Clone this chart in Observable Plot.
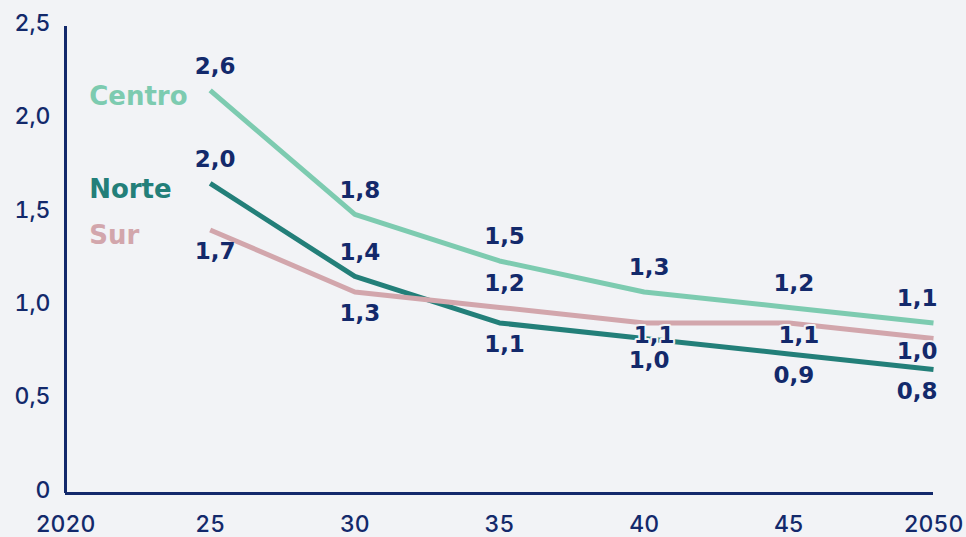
<!DOCTYPE html>
<html>
<head>
<meta charset="utf-8">
<script src="https://cdn.jsdelivr.net/npm/d3@7"></script>
<script src="https://cdn.jsdelivr.net/npm/@observablehq/plot@0.6"></script>
<style>
  html, body { margin: 0; padding: 0; background: #f2f3f6; }
  #chart { width: 966px; height: 537px; overflow: hidden; }
</style>
</head>
<body>
<div id="chart"></div>
<script>
// Projected values per region, 2025–2050
const years = [2025, 2030, 2035, 2040, 2045, 2050];
const regions = ["Centro", "Norte", "Sur"];
const centro = [2.6, 1.8, 1.5, 1.3, 1.2, 1.1];
const norte = [2.0, 1.4, 1.1, 1.0, 0.9, 0.8];
const sur = [1.7, 1.3, 1.2, 1.1, 1.1, 1.0];

const xTicks = [2020, 2025, 2030, 2035, 2040, 2045, 2050];
const xTickLabels = ["2020", "25", "30", "35", "40", "45", "2050"];
const yTicks = [0, 0.5, 1, 1.5, 2, 2.5];
const yTickLabels = ["0", "0,5", "1,0", "1,5", "2,0", "2,5"];

// Where each value label sits relative to its line
const labelSide = {
  Centro: ["above", "above", "above", "above", "above", "above"],
  Norte: ["above", "above", "below", "below", "below", "below"],
  Sur: ["below", "below", "above", "close", "close", "close"]
};
const sideOffset = {above: -24, below: 22, close: 13};

// The vertical axis is read in a unit 0.83 times that of the printed values
const axisFactor = 0.83;
const toAxis = v => v * axisFactor;

const bg = "#f2f3f6";
const navy = "#13296b";
const colors = ["#7dcbb0", "#237f79", "#d2a6ac"];
const series = {Centro: centro, Norte: norte, Sur: sur};

const rows = regions.flatMap(region =>
  years.map((year, i) => ({region, year, value: series[region][i], side: labelSide[region][i]}))
);

const fmt = v => v.toFixed(1).replace(".", ",");
const last = years[years.length - 1];

// Value labels: one text mark per side, the final year right-aligned;
// labels squeezed between two lines get a halo in the background colour
function valueLabels(side) {
  const base = {
    x: "year",
    y: d => toAxis(d.value),
    text: d => fmt(d.value),
    fontSize: 23,
    fontWeight: "bold",
    fill: navy,
    dy: sideOffset[side],
    ...(side === "close" ? {stroke: bg, strokeWidth: 4} : {})
  };
  return [
    Plot.text(rows.filter(d => d.side === side && d.year !== last), {...base, dx: side === "close" ? 10 : 5}),
    Plot.text(rows.filter(d => d.side === side && d.year === last), {...base, dx: 4, textAnchor: "end"})
  ];
}

const tickFont = {fontSize: 23, fontFamily: "Inter", fontWeight: 500, fill: navy, tickSize: 0, label: null};

const chart = Plot.plot({
  width: 966,
  height: 537,
  marginLeft: 65,
  marginRight: 33,
  marginTop: 26,
  marginBottom: 44,
  style: {background: bg, fontFamily: "DejaVu Sans", color: navy, overflow: "visible"},
  x: {domain: [2020, 2050]},
  y: {domain: [0, 2.5]},
  color: {domain: regions, range: colors},
  marks: [
    Plot.axisY({
      ...tickFont,
      ticks: yTicks,
      tickFormat: d => yTickLabels[yTicks.indexOf(d)],
      tickPadding: 15,
      dy: -3
    }),
    Plot.axisX({
      ...tickFont,
      ticks: xTicks,
      tickFormat: d => xTickLabels[xTicks.indexOf(d)],
      tickPadding: 22
    }),
    Plot.ruleX([2020], {stroke: navy, strokeWidth: 3}),
    Plot.ruleY([0], {stroke: navy, strokeWidth: 3}),
    Plot.line(rows, {
      x: "year",
      y: d => toAxis(d.value),
      z: "region",
      stroke: "region",
      strokeWidth: 5,
      strokeLinecap: "butt"
    }),
    ...valueLabels("above"),
    ...valueLabels("below"),
    ...valueLabels("close"),
    // Region names to the left of each line's start
    Plot.text(rows.filter(d => d.year === years[0]), {
      x: "year",
      y: d => toAxis(d.value),
      text: "region",
      fill: "region",
      textAnchor: "start",
      dx: -121,
      dy: 6,
      fontSize: 26,
      fontWeight: "bold",
      letterSpacing: 0.6
    })
  ]
});

document.getElementById("chart").append(chart);
</script>
</body>
</html>
